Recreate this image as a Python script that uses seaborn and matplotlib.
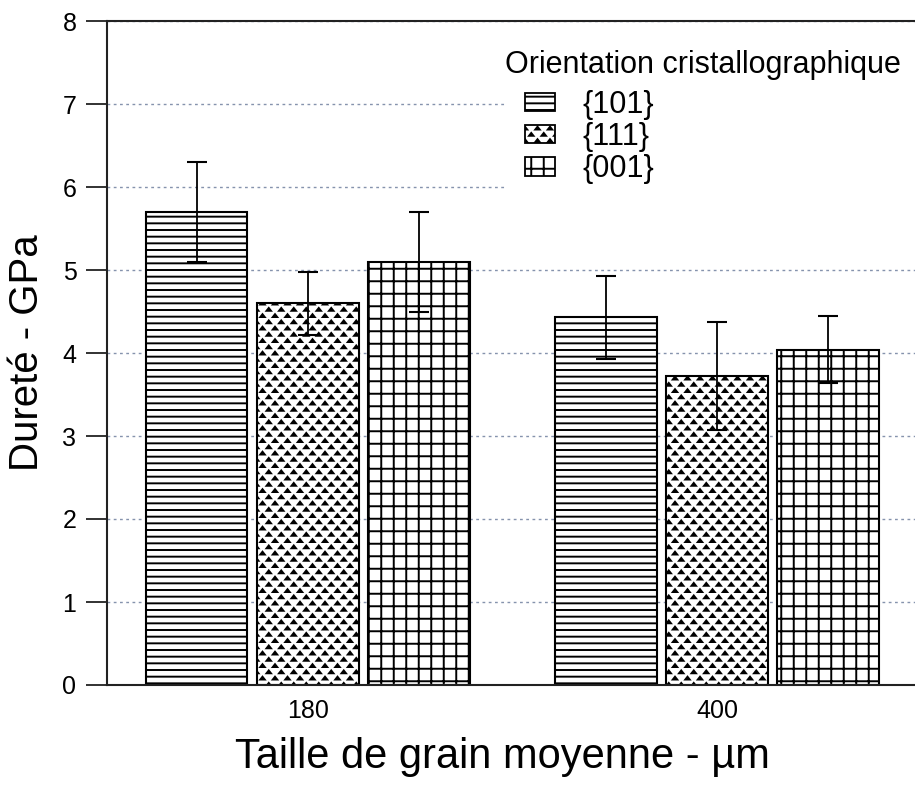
import numpy as np
import pandas as pd
import matplotlib
matplotlib.use("Agg")
import matplotlib.pyplot as plt
import matplotlib.hatch as mhatch
from matplotlib.path import Path
from matplotlib.patches import Patch
import seaborn as sns

# --- data -------------------------------------------------------------
tailles = ["180", "400"]
orientations = ["{101}", "{111}", "{001}"]
durete_101 = [5.70, 4.43]
durete_111 = [4.60, 3.72]
durete_001 = [5.10, 4.04]
ecart_101 = [0.60, 0.50]
ecart_111 = [0.38, 0.65]
ecart_001 = [0.60, 0.40]
yticks = [0, 1, 2, 3, 4, 5, 6, 7, 8]

df = pd.DataFrame({
    "taille": tailles * 3,
    "orientation": np.repeat(orientations, len(tailles)),
    "durete": durete_101 + durete_111 + durete_001,
    "ecart": ecart_101 + ecart_111 + ecart_001,
})


# --- hatch patterns (one tile = one inch of the figure) ----------------
class FineRules(mhatch.HatchPatternBase):
    """Close horizontal rules, drawn for '-'."""
    def __init__(self, hatch, density):
        self.num_lines = 15 if "-" in hatch else 0
        self.num_vertices = 2 * self.num_lines

    def set_vertices_and_codes(self, vertices, codes):
        ys = (np.arange(self.num_lines) + 0.5) / self.num_lines
        vertices[0::2, 0] = 0.0
        vertices[0::2, 1] = ys
        vertices[1::2, 0] = 1.0
        vertices[1::2, 1] = ys
        codes[0::2] = Path.MOVETO
        codes[1::2] = Path.LINETO


class SquareGrid(mhatch.HatchPatternBase):
    """Square grid, drawn for '+'."""
    def __init__(self, hatch, density):
        self.num_lines = 8 if "+" in hatch else 0
        self.num_vertices = 4 * self.num_lines

    def set_vertices_and_codes(self, vertices, codes):
        n = self.num_lines
        s = (np.arange(n) + 0.5) / n
        h = vertices[:2 * n]
        v = vertices[2 * n:]
        h[0::2, 0], h[0::2, 1] = 0.0, s
        h[1::2, 0], h[1::2, 1] = 1.0, s
        v[0::2, 0], v[0::2, 1] = s, 0.0
        v[1::2, 0], v[1::2, 1] = s, 1.0
        codes[0::2] = Path.MOVETO
        codes[1::2] = Path.LINETO


class Triangles(mhatch.HatchPatternBase):
    """Staggered rows of small filled triangles, drawn for '*'."""
    rows, cols = 16, 8
    half_w, half_h = 0.022, 0.014

    def __init__(self, hatch, density):
        if "*" in hatch:
            centres = []
            for r in range(self.rows):
                y = (r + 0.5) / self.rows
                if r % 2 == 0:
                    xs = (np.arange(self.cols) + 0.5) / self.cols
                else:
                    xs = np.arange(self.cols + 1) / self.cols
                centres += [(x, y) for x in xs]
            self.centres = centres
        else:
            self.centres = []
        self.num_vertices = 4 * len(self.centres)

    def set_vertices_and_codes(self, vertices, codes):
        for i, (x, y) in enumerate(self.centres):
            vertices[4 * i:4 * i + 4] = [
                (x - self.half_w, y - self.half_h),
                (x + self.half_w, y - self.half_h),
                (x, y + self.half_h),
                (x - self.half_w, y - self.half_h),
            ]
            codes[4 * i:4 * i + 4] = [Path.MOVETO, Path.LINETO,
                                      Path.LINETO, Path.CLOSEPOLY]


mhatch._hatch_types[:] = [FineRules, SquareGrid, Triangles]
motifs = ["-", "*", "+"]

# --- style ------------------------------------------------------------
sns.set_style("ticks")
plt.rcParams["font.family"] = ["Liberation Sans", "DejaVu Sans"]
plt.rcParams["hatch.linewidth"] = 1.4
plt.rcParams["hatch.color"] = "black"
for key in ["text.color", "axes.labelcolor", "xtick.color", "ytick.color"]:
    plt.rcParams[key] = "black"

fig = plt.figure(figsize=(9.15, 7.96), dpi=100)
ax = fig.add_axes([107 / 915, 1 - 685 / 796, 808 / 915, 664 / 796])

sns.barplot(
    data=df, x="taille", y="durete", hue="orientation",
    hue_order=orientations, order=tailles,
    palette=["white"] * 3, saturation=1,
    edgecolor="black", linewidth=1.5,
    width=0.815, gap=0.087, errorbar=None, legend=False, ax=ax,
)

for container, motif, orient in zip(ax.containers, motifs, orientations):
    sub = df[df["orientation"] == orient].set_index("taille").loc[tailles]
    xs, ys = [], []
    for bar in container:
        bar.set_hatch(motif)
        xs.append(bar.get_x() + bar.get_width() / 2)
        ys.append(bar.get_height())
    ax.errorbar(xs, ys, yerr=sub["ecart"].values, fmt="none",
                ecolor="black", elinewidth=1.3, capsize=7.5, capthick=1.5,
                zorder=5)

ax.set_ylim(0, 8)
ax.set_xlim(-0.491, 1.484)
ax.set_yticks(yticks)
ax.yaxis.grid(True, linestyle=(0, (2, 2.5)), color="#8593ad", linewidth=1.0)
ax.set_axisbelow(True)

for side in ["left", "bottom", "top"]:
    ax.spines[side].set_visible(True)
    ax.spines[side].set_color("#222222")
    ax.spines[side].set_linewidth(1.5)
ax.spines["right"].set_visible(False)

ax.tick_params(axis="y", length=15, width=1.3, color="#222222", pad=7,
               labelsize=18)
ax.tick_params(axis="x", length=0, pad=10, labelsize=18)

ax.set_xlabel("Taille de grain moyenne - µm", fontsize=30, labelpad=10)
ax.xaxis.label.set_x(0.49)
ax.set_ylabel("Dureté - GPa", fontsize=29, labelpad=12)

# legend: indented entries under a left-aligned heading, on a white panel
handles = [Patch(facecolor="white", edgecolor="black", linewidth=1.3,
                 hatch=m, label=o) for m, o in zip(motifs, orientations)]
leg = ax.legend(
    handles=handles,
    loc="upper left",
    bbox_to_anchor=(398 / 808, (685 - 70) / 664, 410 / 808, 0),
    mode="expand", borderaxespad=0,
    fontsize=22, frameon=True, fancybox=False, framealpha=1,
    edgecolor="none", facecolor="white", borderpad=0.65, labelspacing=0.07,
    handlelength=1.0, handleheight=0.55, handletextpad=0.9,
)
leg.set_zorder(6)
ax.text(398 / 808, (685 - 65) / 664, "Orientation cristallographique",
        transform=ax.transAxes, ha="left", va="center", fontsize=22,
        zorder=7)

fig.savefig("out.png", dpi=100, facecolor="white")
